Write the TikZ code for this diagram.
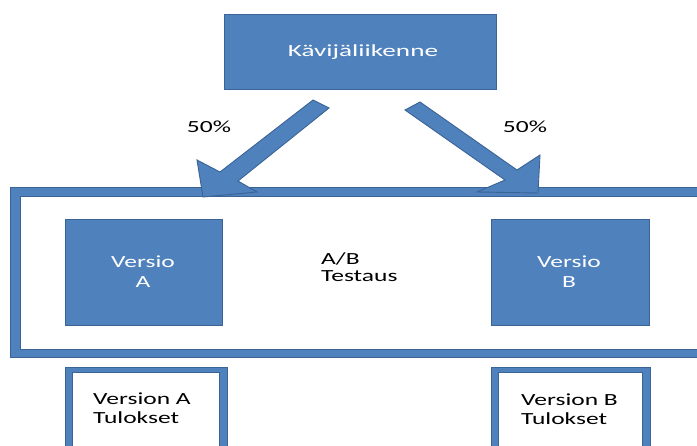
\documentclass[tikz,border=0pt]{standalone}
\usepackage{fontspec}
\newfontfamily\calw[FakeStretch=1.5]{Carlito}
\newfontfamily\calww[FakeStretch=1.6]{Carlito}
\definecolor{boxblue}{HTML}{4F81BD}
\definecolor{boxedge}{HTML}{3A6396}
\tikzset{
  bluebox/.style={fill=boxblue,draw=boxedge,line width=1pt,inner sep=0pt},
  whitebox/.style={fill=white,draw=boxedge,line width=0.9pt,inner sep=0pt},
  lbl/.style={inner sep=0pt,anchor=base,font=\calw\fontsize{17}{20}\selectfont},
  lblw/.style={lbl,text=white},
  lblk/.style={lbl,text=black},
  blockarrow/.style={fill=boxblue,draw=boxedge,line width=0.9pt,line join=miter},
}
\begin{document}
\begin{tikzpicture}[x=1pt,y=-1pt]
\useasboundingbox (0,0) rectangle (697,446);
\clip (0,0) rectangle (697,446);

% top box
\node[bluebox,minimum width=272pt,minimum height=75pt,anchor=north west] (traffic) at (224,14) {};
\node[lblw,font=\calww\fontsize{17}{20}\selectfont] (trafficlbl) at (363,57) {Kävijäliikenne};

% big A/B frame
\node[bluebox,minimum width=700pt,minimum height=170pt,anchor=north west] (frameout) at (10,187) {};
\node[whitebox,minimum width=700pt,minimum height=153pt,anchor=north west] (framein) at (20,196) {};

% block arrows
\coordinate (la1) at (313,100);
\coordinate (la2) at (329,108);
\coordinate (la3) at (238,181);
\coordinate (la4) at (257,192);
\coordinate (la5) at (203,197);
\coordinate (la6) at (197,160);
\coordinate (la7) at (220,172);
\draw[blockarrow] (la1) -- (la2) -- (la3) -- (la4) -- (la5) -- (la6) -- (la7) -- cycle;

\coordinate (ra1) at (405,110);
\coordinate (ra2) at (420,102);
\coordinate (ra3) at (517,170);
\coordinate (ra4) at (540,155);
\coordinate (ra5) at (538,193);
\coordinate (ra6) at (477,192);
\coordinate (ra7) at (505,180);
\draw[blockarrow] (ra1) -- (ra2) -- (ra3) -- (ra4) -- (ra5) -- (ra6) -- (ra7) -- cycle;

\node[lblk] (pctl) at (209,133) {50\%};
\node[lblk] (pctr) at (525,133) {50\%};

% version boxes
\node[bluebox,minimum width=157pt,minimum height=106pt,anchor=north west] (va) at (65,219) {};
\node[lblw] (valbl1) at (143,268) {Versio};
\node[lblw] (valbl2) at (143,288) {A};
\node[bluebox,minimum width=158pt,minimum height=106pt,anchor=north west] (vb) at (491,219) {};
\node[lblw] (vblbl1) at (569,268) {Versio};
\node[lblw] (vblbl2) at (569,288) {B};

\node[lblk,anchor=base west] (ab1) at (321,265) {A/B};
\node[lblk,anchor=base west] (ab2) at (321,282) {Testaus};

% result boxes
\node[bluebox,minimum width=162pt,minimum height=100pt,anchor=north west] (ra) at (65,367) {};
\node[whitebox,minimum width=147pt,minimum height=100pt,anchor=north west] (rain) at (72,372) {};
\node[lblk,anchor=base west] (ralbl1) at (93,405) {Version A};
\node[lblk,anchor=base west] (ralbl2) at (93,424) {Tulokset};

\node[bluebox,minimum width=159pt,minimum height=100pt,anchor=north west] (rb) at (491,367) {};
\node[whitebox,minimum width=144pt,minimum height=100pt,anchor=north west] (rbin) at (498,372) {};
\node[lblk,anchor=base west] (rblbl1) at (521,406) {Version B};
\node[lblk,anchor=base west] (rblbl2) at (521,425) {Tulokset};
\end{tikzpicture}
\end{document}
